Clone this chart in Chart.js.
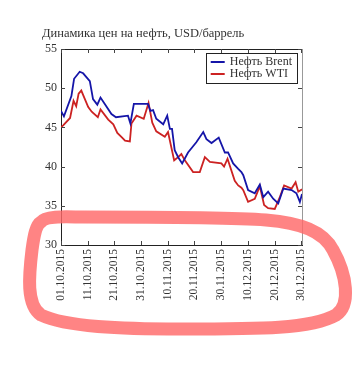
<!DOCTYPE html>
<html>
<head>
<meta charset="utf-8">
<script src="https://cdn.jsdelivr.net/npm/chart.js@4.4.1/dist/chart.umd.min.js"></script>
<style>
html,body{margin:0;padding:0;background:#fff;}
canvas{display:block;}
</style>
</head>
<body>
<canvas id="c" width="361" height="368"></canvas>
<script>
// ---- data (day offset from 01.10.2015, price USD/barrel) ----
const titleText = "Динамика цен на нефть, USD/баррель";
const seriesNames = ["Нефть Brent", "Нефть WTI"];
const brentDays = [0, 1.1, 3.9, 4.9, 7.0, 8.3, 10.8, 12.0, 13.6, 14.8, 18.9, 20.6, 25.1, 26.0, 27.3, 32.6, 33.5, 34.5, 35.7, 38.3, 39.8, 40.8, 41.6, 42.6, 43.9, 45.4, 47.6, 50.7, 53.3, 54.5, 56.4, 59.1, 61.4, 62.6, 64.5, 66.4, 67.6, 68.3, 70.1, 72.6, 74.5, 75.8, 77.6, 79.5, 81.4, 83.3, 86.4, 88.2, 89.5, 90.3];
const brentPrices = [47.1, 46.4, 49.0, 51.2, 52.1, 51.9, 50.9, 48.6, 47.9, 48.8, 46.7, 46.3, 46.5, 45.5, 48.0, 48.0, 47.1, 47.2, 46.1, 45.4, 46.5, 44.8, 44.8, 42.1, 41.2, 40.4, 41.8, 43.1, 44.4, 43.5, 43.0, 43.7, 41.8, 41.8, 40.4, 39.7, 39.3, 38.9, 37.0, 36.6, 37.7, 36.1, 36.8, 35.9, 35.3, 37.2, 37.0, 36.6, 35.5, 36.5];
const wtiDays = [0, 0.9, 3.4, 4.7, 5.7, 6.6, 7.6, 10.2, 11.5, 13.8, 14.8, 17.7, 19.6, 21.1, 22.9, 24.0, 25.8, 26.4, 28.3, 31.0, 32.8, 34.2, 35.7, 38.9, 40.1, 42.4, 43.9, 45.1, 46.4, 49.5, 52.0, 53.9, 55.8, 60.1, 61.1, 62.4, 65.1, 66.4, 67.6, 68.3, 70.1, 72.6, 74.5, 76.1, 77.6, 80.1, 82.0, 83.6, 86.4, 87.9, 88.9, 90.3];
const wtiPrices = [45.0, 45.3, 46.2, 48.4, 47.7, 49.3, 49.7, 47.6, 47.0, 46.3, 47.3, 46.0, 45.4, 44.3, 43.7, 43.3, 43.2, 45.5, 46.5, 46.1, 48.1, 45.6, 44.5, 43.8, 44.4, 40.8, 41.2, 41.6, 40.8, 39.3, 39.3, 41.2, 40.6, 40.4, 40.0, 41.0, 38.2, 37.6, 37.3, 37.0, 35.5, 35.9, 37.5, 35.1, 34.7, 34.6, 36.1, 37.6, 37.2, 38.0, 36.8, 37.1];
const xTickDays = [0, 10, 20, 30, 40, 50, 60, 70, 80, 90];
const yTicks = [30, 35, 40, 45, 50, 55];
const startDate = [2015, 9, 1];

const serif = "'Liberation Serif', 'DejaVu Serif', serif";

function dayLabel(d) {
  const dt = new Date(startDate[0], startDate[1], startDate[2] + d);
  const dd = String(dt.getDate()).padStart(2, '0');
  const mm = String(dt.getMonth() + 1).padStart(2, '0');
  return dd + '.' + mm + '.' + dt.getFullYear();
}

const frame = {
  id: 'frame',
  afterDatasetsDraw(chart) {
    const ctx = chart.ctx, a = chart.chartArea;
    const xs = chart.scales.x, ys = chart.scales.y;
    ctx.save();
    ctx.lineWidth = 1;
    // top border
    ctx.strokeStyle = '#222';
    ctx.beginPath(); ctx.moveTo(a.left, a.top + 0.5); ctx.lineTo(a.right, a.top + 0.5); ctx.stroke();
    // right border
    ctx.strokeStyle = '#999';
    ctx.beginPath(); ctx.moveTo(a.right + 0.5, a.top); ctx.lineTo(a.right + 0.5, a.bottom); ctx.stroke();
    // inward ticks
    const L = 4;
    ctx.strokeStyle = '#444';
    xTickDays.forEach(v => {
      const px = Math.round(xs.getPixelForValue(v)) + 0.5;
      ctx.beginPath();
      ctx.moveTo(px, a.bottom); ctx.lineTo(px, a.bottom - L);
      ctx.moveTo(px, a.top); ctx.lineTo(px, a.top + L);
      ctx.stroke();
    });
    yTicks.forEach(v => {
      const py = Math.round(ys.getPixelForValue(v)) + 0.5;
      ctx.beginPath();
      ctx.moveTo(a.left, py); ctx.lineTo(a.left + L, py);
      ctx.moveTo(a.right, py); ctx.lineTo(a.right - L, py);
      ctx.stroke();
    });
    // legend box
    ctx.font = '12px ' + serif;
    const tw = Math.max(...chart.data.datasets.map(d => ctx.measureText(d.label).width));
    const pad = 5, sample = 14, gap = 5, rowH = 12;
    const w = pad + sample + gap + tw + pad;
    const h = rowH * 2 + 6;
    const bx = a.right - 5 - w, by = a.top + 4;
    ctx.fillStyle = '#fff';
    ctx.fillRect(bx, by, w, h);
    ctx.strokeStyle = '#222';
    ctx.strokeRect(Math.round(bx) + 0.5, Math.round(by) + 0.5, Math.round(w), Math.round(h));
    chart.data.datasets.forEach((d, i) => {
      const cy = by + 3 + rowH * i + rowH / 2;
      ctx.strokeStyle = d.borderColor;
      ctx.lineWidth = 2;
      ctx.beginPath(); ctx.moveTo(bx + pad, cy); ctx.lineTo(bx + pad + sample, cy); ctx.stroke();
      ctx.fillStyle = '#333';
      ctx.textBaseline = 'middle';
      ctx.textAlign = 'left';
      ctx.fillText(d.label, bx + pad + sample + gap, cy);
    });
    ctx.restore();
  },
  afterDraw(chart) {
    // hand-drawn highlight loop around the date labels
    const ctx = chart.ctx, a = chart.chartArea;
    const L = a.left, B = a.bottom;
    ctx.save();
    ctx.strokeStyle = 'rgba(255,105,105,0.82)';
    ctx.lineWidth = 13;
    ctx.lineJoin = 'round';
    ctx.lineCap = 'round';
    ctx.beginPath();
    ctx.moveTo(L - 20, B - 23);
    ctx.bezierCurveTo(L - 15, B - 30, L + 10, B - 28, L + 20, B - 28);
    ctx.bezierCurveTo(L + 100, B - 28, L + 180, B - 27, L + 205, B - 25);
    ctx.bezierCurveTo(L + 240, B - 22, L + 262, B - 14, L + 272, B + 5);
    ctx.bezierCurveTo(L + 286, B + 30, L + 290, B + 60, L + 275, B + 70);
    ctx.bezierCurveTo(L + 250, B + 84, L + 200, B + 84, L + 120, B + 84);
    ctx.bezierCurveTo(L + 60, B + 84, L + 5, B + 82, L - 20, B + 70);
    ctx.bezierCurveTo(L - 35, B + 60, L - 32, B + 30, L - 29, B + 5);
    ctx.bezierCurveTo(L - 27, B - 10, L - 25, B - 20, L - 20, B - 23);
    ctx.stroke();
    ctx.restore();
  }
};

new Chart(document.getElementById('c'), {
  type: 'line',
  data: {
    datasets: [
      {
        label: seriesNames[0],
        data: brentDays.map((d, i) => ({x: d, y: brentPrices[i]})),
        borderColor: '#1515a8',
        borderWidth: 1.8,
        pointRadius: 0,
        tension: 0,
        fill: false
      },
      {
        label: seriesNames[1],
        data: wtiDays.map((d, i) => ({x: d, y: wtiPrices[i]})),
        borderColor: '#cc2222',
        borderWidth: 1.8,
        pointRadius: 0,
        tension: 0,
        fill: false
      }
    ]
  },
  options: {
    responsive: false,
    animation: false,
    devicePixelRatio: 1,
    layout: {padding: {left: 42, right: 59, top: 26, bottom: 65}},
    plugins: {
      legend: {display: false},
      tooltip: {enabled: false},
      title: {
        display: true,
        text: titleText,
        align: 'start',
        color: '#333',
        font: {family: serif, size: 12.5, weight: 'normal'},
        padding: {top: 0, bottom: 8}
      }
    },
    scales: {
      x: {
        type: 'linear',
        min: 0,
        max: 90.3,
        afterBuildTicks: s => { s.ticks = xTickDays.map(v => ({value: v})); },
        afterFit: s => { s.height = 58; },
        grid: {display: true, drawOnChartArea: false, drawTicks: false},
        border: {display: true, color: '#222', width: 1},
        ticks: {
          autoSkip: false,
          minRotation: 90,
          maxRotation: 90,
          padding: 4,
          color: '#333',
          font: {family: serif, size: 11.5},
          callback: v => dayLabel(v)
        }
      },
      y: {
        min: 30,
        max: 55,
        afterBuildTicks: s => { s.ticks = yTicks.map(v => ({value: v})); },
        afterFit: s => { s.width = 19; },
        grid: {display: true, drawOnChartArea: false, drawTicks: false},
        border: {display: true, color: '#222', width: 1},
        ticks: {
          padding: 4,
          color: '#333',
          font: {family: serif, size: 12}
        }
      }
    }
  },
  plugins: [frame]
});
</script>
</body>
</html>
